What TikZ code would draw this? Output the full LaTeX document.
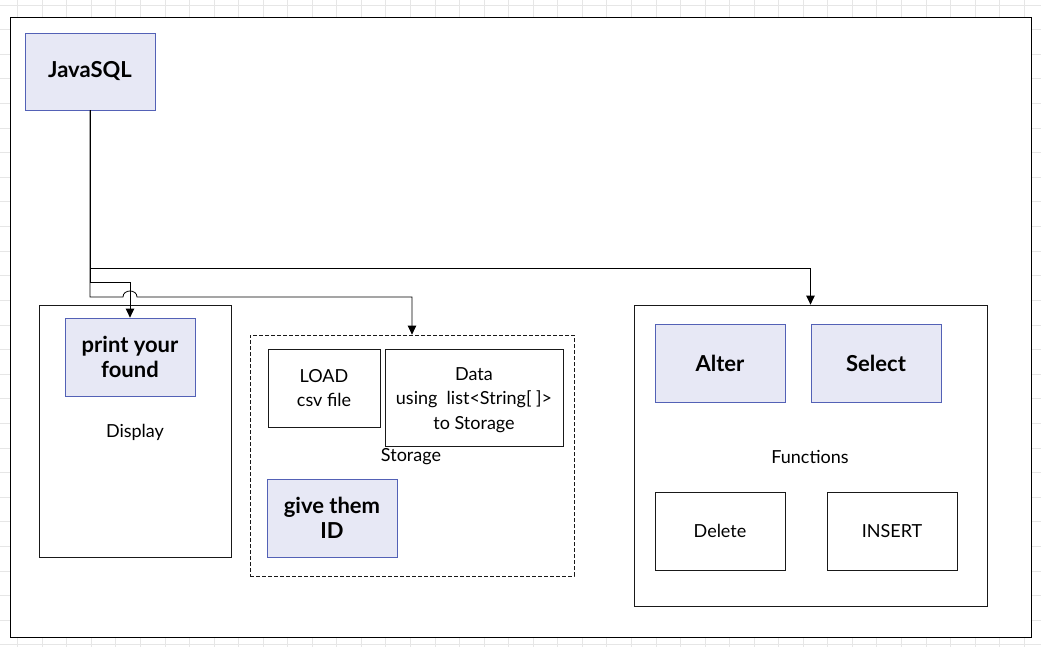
\documentclass[tikz,border=0pt]{standalone}
\usepackage{fontspec}
\setmainfont{Lato}
\usetikzlibrary{arrows.meta}
\definecolor{lav}{HTML}{E7E8F5}
\definecolor{lavline}{HTML}{5361B6}
\definecolor{gridc}{HTML}{E6E6E6}
\tikzset{
  bluebox/.style={draw=lavline, fill=lav, line width=0.8pt, align=center, inner sep=0pt, font=\fontsize{22}{25}\selectfont\bfseries},
  whitebox/.style={draw=black!90, fill=white, line width=0.8pt, align=center, inner sep=0pt, font=\fontsize{18}{24.5}\selectfont},
  container/.style={draw=black!90, line width=0.8pt, inner sep=0pt},
  lbl/.style={inner sep=0pt, font=\fontsize{18}{22}\selectfont},
  conn/.style={draw=black, line width=0.8pt, -{Triangle[width=8.5pt,length=9pt]}},
}
\begin{document}
\begin{tikzpicture}[x=1pt,y=-1pt]
\useasboundingbox (0,0) rectangle (1041,647);
\fill[white] (0,0) rectangle (1041,647);
% background grid
\foreach \k in {0,...,26} \draw[gridc, line width=0.6pt] (0,5+24.6*\k) -- (1041,5+24.6*\k);
\foreach \k in {0,...,42} \draw[gridc, line width=0.6pt] (17.5+24.55*\k,0) -- (17.5+24.55*\k,647);
% outer frame
\draw[fill=white, line width=0.9pt] (10,17) rectangle (1031,637);
% containers
\node[container, minimum width=192, minimum height=252] (disp) at (135,431) {};
\node[container, dash pattern=on 4pt off 2pt, minimum width=324, minimum height=241] (stor) at (412,455.5) {};
\node[container, minimum width=353, minimum height=301] (func) at (810.5,455.5) {};
% nodes
\node[bluebox, minimum width=130, minimum height=77] (java) at (90,71.5) {JavaSQL};
\node[bluebox, minimum width=130, minimum height=78] (print) at (130,357) {print your\\found};
\node[lbl] (displbl) at (135,432) {Display};
\node[whitebox, minimum width=112, minimum height=78] (load) at (324,388) {LOAD\\csv file};
\node[whitebox, minimum width=178, minimum height=97] (data) at (474,397.5) {};
\node[whitebox, draw=none, fill=none] (datatext) at (474,400) {Data\\using\ \ list<String[\ ]>\\to Storage};
\node[lbl] (storlbl) at (411,457) {Storage};
\node[bluebox, minimum width=130, minimum height=78] (give) at (332,518) {give them\\ID};
\node[bluebox, minimum width=130, minimum height=78] (alter) at (720,363) {Alter};
\node[bluebox, minimum width=130, minimum height=78] (select) at (876,363) {Select};
\node[lbl] (funclbl) at (810,457) {Functions};
\node[whitebox, minimum width=130, minimum height=78] (del) at (720,531) {Delete};
\node[whitebox, minimum width=130, minimum height=78] (ins) at (892,531) {INSERT};
% connectors
\draw[conn] (java.south) -- (90,268) -| (func.north);
\draw[conn] (java.south) -- (90,282) -| (print.north);
\draw[conn] (java.south) -- (90,297) -- (123,297) .. controls (123,289) and (137,289) .. (137,297) -- (412,297) -- (stor.north);
\end{tikzpicture}
\end{document}
